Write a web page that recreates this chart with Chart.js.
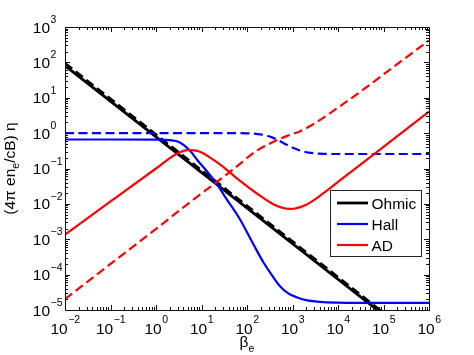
<!DOCTYPE html>
<html>
<head>
<meta charset="utf-8">
<script src="https://cdn.jsdelivr.net/npm/chart.js@4"></script>
<style>
  html, body { margin: 0; padding: 0; background: #fff; }
  #wrap { width: 474px; height: 355px; }
</style>
</head>
<body>
<div id="wrap"><canvas id="c" width="474" height="355"></canvas></div>
<script>
// ---- data (beta_e vs normalized eta) ----
const ohmicSolidBeta = [0.01, 1e5];
const ohmicSolidEta  = [81, 7.3e-6];
const ohmicDashBeta  = [0.01, 1e5];
const ohmicDashEta   = [94, 8.3e-6];

const hallSolidBeta = [0.01, 0.1, 1, 2, 3.2, 5.6, 8.3, 12.6, 20, 35, 71, 100, 158, 229, 355, 531, 794, 1230, 2000, 4000, 1e4, 1e5, 1e6];
const hallSolidEta  = [0.661, 0.661, 0.653, 0.631, 0.562, 0.316, 0.166, 0.0891, 0.0427, 0.0141, 3.55e-3, 1.58e-3, 5.25e-4, 2.24e-4, 9.5e-5, 4.7e-5, 3.0e-5, 2.3e-5, 1.9e-5, 1.7e-5, 1.62e-5, 1.58e-5, 1.58e-5];

const hallDashBeta = [0.01, 1, 10, 100, 158, 251, 355, 468, 631, 891, 1445, 2239, 3981, 1e4, 1e6];
const hallDashEta  = [1.0, 1.0, 1.0, 0.99, 0.955, 0.871, 0.759, 0.646, 0.525, 0.417, 0.324, 0.282, 0.263, 0.257, 0.257];

const adSolidBeta = [0.01, 0.1, 1, 2.8, 5, 8.9, 15.8, 30, 63, 162, 398, 891, 2000, 4786, 1e4, 2.2e4, 1e5, 1e6];
const adSolidEta  = [1.35e-3, 0.0117, 0.1, 0.257, 0.331, 0.302, 0.2, 0.112, 0.050, 0.020, 9.5e-3, 7.2e-3, 9.5e-3, 0.020, 0.0417, 0.0912, 0.407, 4.07];

const adDashBeta = [0.01, 0.1, 1, 5.6, 43, 162, 282, 468, 794, 1445, 2512, 3981, 6607, 31623, 1e5, 1e6];
const adDashEta  = [2.04e-5, 2.0e-4, 1.95e-3, 0.0112, 0.0813, 0.316, 0.468, 0.646, 0.851, 1.12, 1.62, 2.34, 3.63, 15.1, 45.7, 417];

// ---- ticks ----
const xTickValues = [1e-2, 1e-1, 1, 1e1, 1e2, 1e3, 1e4, 1e5, 1e6];
const xTickExps   = ['\u22122', '\u22121', '0', '1', '2', '3', '4', '5', '6'];
const yTickValues = [1e-5, 1e-4, 1e-3, 1e-2, 1e-1, 1, 1e1, 1e2, 1e3];
const yTickExps   = ['\u22125', '\u22124', '\u22123', '\u22122', '\u22121', '0', '1', '2', '3'];
const legendLabels = ['Ohmic', 'Hall', 'AD'];

const FONT = '"Liberation Sans", Arial, Helvetica, sans-serif';
const BIG = 15.5, SMALL = 10.5;

function pts(xs, ys) { return xs.map((x, i) => ({x: x, y: ys[i]})); }

function ds(label, xs, ys, color, width, dash, order) {
  return {
    label: label, data: pts(xs, ys), showLine: true, borderColor: color,
    backgroundColor: color, borderWidth: width, borderDash: dash,
    pointRadius: 0, pointHoverRadius: 0, fill: false,
    cubicInterpolationMode: 'monotone', order: order
  };
}

const datasets = [
  ds('Ohmic', ohmicSolidBeta, ohmicSolidEta, '#000000', 2.8, [], 6),
  ds('Ohmic (dashed)', ohmicDashBeta, ohmicDashEta, '#000000', 2.8, [9, 4.5], 5),
  ds('Hall', hallSolidBeta, hallSolidEta, '#0000ff', 2.2, [], 4),
  ds('Hall (dashed)', hallDashBeta, hallDashEta, '#0000ff', 2.2, [9, 4.5], 3),
  ds('AD', adSolidBeta, adSolidEta, '#ff0000', 2.2, [], 2),
  ds('AD (dashed)', adDashBeta, adDashEta, '#ff0000', 2.2, [9, 4.5], 1)
];

const matlabAxes = {
  id: 'matlabAxes',
  afterDatasetsDraw(chart) {
    const ctx = chart.ctx, a = chart.chartArea;
    const xs = chart.scales.x, ys = chart.scales.y;
    const L = Math.round(a.left), R = Math.round(a.right), T = Math.round(a.top), B = Math.round(a.bottom);
    ctx.save();
    ctx.strokeStyle = '#111';
    ctx.lineWidth = 1;
    ctx.strokeRect(L + 0.5, T + 0.5, R - L, B - T);
    ctx.beginPath();
    // x ticks (major + minor), bottom and top, pointing inward
    for (let i = 0; i < xTickValues.length; i++) {
      const dec = xTickValues[i];
      for (let m = 1; m <= 9; m++) {
        if (i === xTickValues.length - 1 && m > 1) break;
        const len = m === 1 ? 5 : 3;
        const px = Math.round(xs.getPixelForValue(dec * m)) + 0.5;
        ctx.moveTo(px, B); ctx.lineTo(px, B - len);
        ctx.moveTo(px, T); ctx.lineTo(px, T + len);
      }
    }
    for (let i = 0; i < yTickValues.length; i++) {
      const dec = yTickValues[i];
      for (let m = 1; m <= 9; m++) {
        if (i === yTickValues.length - 1 && m > 1) break;
        const len = m === 1 ? 5 : 3;
        const py = Math.round(ys.getPixelForValue(dec * m)) + 0.5;
        ctx.moveTo(L, py); ctx.lineTo(L + len, py);
        ctx.moveTo(R, py); ctx.lineTo(R - len, py);
      }
    }
    ctx.stroke();

    ctx.fillStyle = '#000';
    ctx.textBaseline = 'alphabetic';
    // x tick labels: 10^n centered on tick
    for (let i = 0; i < xTickValues.length; i++) {
      const px = xs.getPixelForValue(xTickValues[i]);
      ctx.font = BIG + 'px ' + FONT;
      const w10 = ctx.measureText('10').width;
      ctx.font = SMALL + 'px ' + FONT;
      const we = ctx.measureText(xTickExps[i]).width;
      const start = px - (w10 + we) / 2;
      ctx.textAlign = 'left';
      ctx.font = BIG + 'px ' + FONT;
      ctx.fillText('10', start, B + 23.5);
      ctx.font = SMALL + 'px ' + FONT;
      ctx.fillText(xTickExps[i], start + w10 + 0.5, B + 13);
    }
    // y tick labels
    for (let i = 0; i < yTickValues.length; i++) {
      const py = ys.getPixelForValue(yTickValues[i]);
      ctx.font = BIG + 'px ' + FONT;
      ctx.textAlign = 'right';
      ctx.fillText('10', 50, py + 5.5);
      ctx.font = SMALL + 'px ' + FONT;
      ctx.textAlign = 'left';
      ctx.fillText(yTickExps[i], 50.5, py - 4);
    }
    // x axis title: beta_e
    const cx = (a.left + a.right) / 2;
    ctx.font = BIG + 'px ' + FONT;
    const wb = ctx.measureText('\u03b2').width;
    ctx.font = SMALL + 'px ' + FONT;
    const wsub = ctx.measureText('e').width;
    const sx = cx - (wb + wsub) / 2;
    ctx.textAlign = 'left';
    ctx.font = BIG + 'px ' + FONT;
    ctx.fillText('\u03b2', sx, 347);
    ctx.font = SMALL + 'px ' + FONT;
    ctx.fillText('e', sx + wb, 352);

    // y axis title: (4π en_e/cB) η rotated
    const parts = [['(4\u03c0 en', BIG, 0], ['e', SMALL, 4], ['/cB) \u03b7', BIG, 0]];
    let total = 0;
    parts.forEach(p => { ctx.font = p[1] + 'px ' + FONT; p.push(ctx.measureText(p[0]).width); total += p[3]; });
    ctx.save();
    ctx.translate(15, (a.top + a.bottom) / 2);
    ctx.rotate(-Math.PI / 2);
    let ox = -total / 2;
    parts.forEach(p => {
      ctx.font = p[1] + 'px ' + FONT;
      ctx.fillText(p[0], ox, p[2]);
      ox += p[3];
    });
    ctx.restore();
    ctx.restore();
  },
  afterDraw(chart) {
    const ctx = chart.ctx;
    const bx = 330.5, by = 190.5, bw = 91, bh = 66;
    ctx.save();
    ctx.fillStyle = '#fff';
    ctx.fillRect(bx, by, bw, bh);
    ctx.strokeStyle = '#222';
    ctx.lineWidth = 1;
    ctx.strokeRect(bx, by, bw, bh);
    const solid = [0, 2, 4];
    const rowY = [203, 224, 245];
    ctx.font = BIG + 'px ' + FONT;
    ctx.textAlign = 'left';
    ctx.textBaseline = 'alphabetic';
    for (let i = 0; i < 3; i++) {
      const d = chart.data.datasets[solid[i]];
      ctx.strokeStyle = d.borderColor;
      ctx.lineWidth = d.borderWidth;
      ctx.beginPath();
      ctx.moveTo(337, rowY[i]);
      ctx.lineTo(368, rowY[i]);
      ctx.stroke();
      ctx.fillStyle = '#000';
      ctx.fillText(legendLabels[i], 371.5, rowY[i] + 5.8);
    }
    ctx.restore();
  }
};

new Chart(document.getElementById('c'), {
  type: 'scatter',
  data: { datasets: datasets },
  options: {
    responsive: false,
    animation: false,
    events: [],
    layout: { padding: { left: 65, right: 45, top: 27, bottom: 45 } },
    scales: {
      x: { type: 'logarithmic', min: 0.01, max: 1e6, display: false },
      y: { type: 'logarithmic', min: 1e-5, max: 1e3, display: false }
    },
    plugins: { legend: { display: false }, tooltip: { enabled: false } }
  },
  plugins: [matlabAxes]
});
</script>
</body>
</html>
